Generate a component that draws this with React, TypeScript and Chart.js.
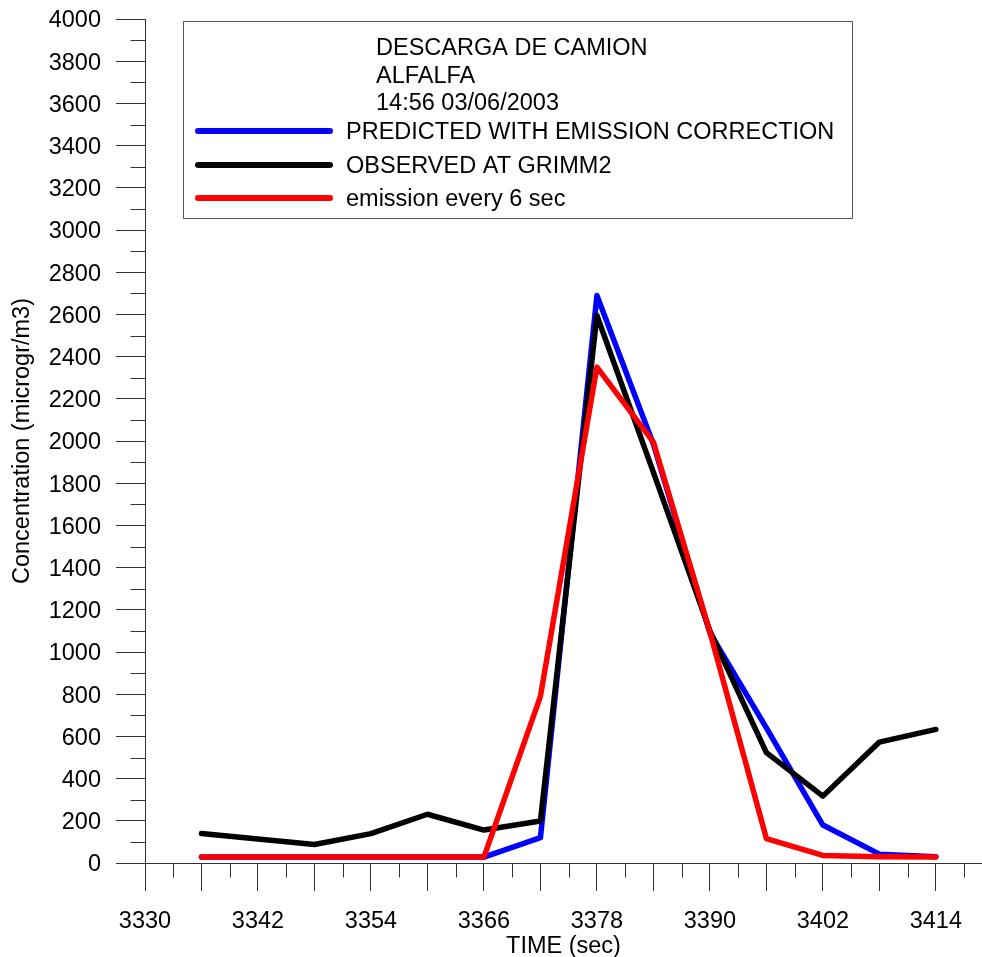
import React, { useEffect, useRef } from 'react';
import { Chart, registerables } from 'chart.js';

Chart.register(...registerables);

// ---- data ----
const times = [3336, 3342, 3348, 3354, 3360, 3366, 3372, 3378, 3384, 3390, 3396, 3402, 3408, 3414];
const predicted = [28, 28, 28, 28, 28, 28, 120, 2690, 1985, 1090, 640, 180, 42, 30];
const observed = [140, 114, 88, 139, 231, 156, 199, 2595, 1851, 1100, 523, 317, 573, 633];
const emission = [28, 28, 28, 28, 28, 28, 790, 2350, 1995, 1095, 116, 36, 30, 28];

const seriesLabels = ['PREDICTED WITH EMISSION CORRECTION', 'OBSERVED AT GRIMM2', 'emission every 6 sec'];
const seriesColors = ['#0000ff', '#000000', '#ff0000'];
const titleLines = ['DESCARGA DE CAMION', 'ALFALFA', '14:56 03/06/2003'];
const xTitle = 'TIME (sec)';
const yTitle = 'Concentration (microgr/m3)';

const xMin = 3330;
const xMax = 3418.9;
const xMajorStep = 6;
const xLabelStep = 12;
const xMinorStep = 3;
const yMin = 0;
const yMax = 4000;
const yMajorStep = 200;
const yMinorStep = 100;

const FONT = '"Liberation Sans", Arial, Helvetica, sans-serif';
const FONT_SIZE = 23.5;
const AXIS_COLOR = '#333333';

const extrasPlugin = {
  id: 'extras',
  afterDraw(chart: any) {
    const ctx = chart.ctx as CanvasRenderingContext2D;
    const xs = chart.scales.x;
    const ys = chart.scales.y;
    ctx.save();
    // minor ticks
    ctx.strokeStyle = AXIS_COLOR;
    ctx.lineWidth = 1;
    ctx.beginPath();
    for (let v = xMin + xMinorStep; v < xMax; v += xMajorStep) {
      const px = Math.round(xs.getPixelForValue(v)) + 0.5;
      ctx.moveTo(px, xs.top);
      ctx.lineTo(px, xs.top + 14.5);
    }
    for (let v = yMin + yMinorStep; v < yMax; v += yMajorStep) {
      const py = Math.round(ys.getPixelForValue(v)) + 0.5;
      ctx.moveTo(ys.right - 14.5, py);
      ctx.lineTo(ys.right, py);
    }
    ctx.stroke();

    // legend box
    const bl = 183, bt = 21, br = 852, bb = 218;
    ctx.fillStyle = '#ffffff';
    ctx.fillRect(bl, bt, br - bl, bb - bt);
    ctx.strokeStyle = '#555555';
    ctx.lineWidth = 1;
    ctx.strokeRect(bl + 0.5, bt + 0.5, br - bl, bb - bt);

    ctx.font = `${FONT_SIZE}px ${FONT}`;
    ctx.fillStyle = '#000000';
    ctx.textAlign = 'left';
    ctx.textBaseline = 'middle';
    const titleYs = [49, 77, 104];
    titleLines.forEach((t, i) => ctx.fillText(t, 376, titleYs[i]));

    const itemYs = [131, 165, 198];
    chart.data.datasets.forEach((ds: any, i: number) => {
      const y = itemYs[i];
      ctx.strokeStyle = ds.borderColor;
      ctx.lineWidth = 6;
      ctx.lineCap = 'round';
      ctx.beginPath();
      ctx.moveTo(198, y);
      ctx.lineTo(330, y);
      ctx.stroke();
      ctx.fillStyle = '#000000';
      ctx.fillText(ds.label, 346, y + 2);
    });
    ctx.restore();
  },
};

export default function App() {
  const canvasRef = useRef<HTMLCanvasElement | null>(null);

  useEffect(() => {
    if (!canvasRef.current) return;
    const mk = (i: number, values: number[], order: number) => ({
      label: seriesLabels[i],
      data: times.map((t, k) => ({ x: t, y: values[k] })),
      borderColor: seriesColors[i],
      backgroundColor: seriesColors[i],
      borderWidth: 5.5,
      pointRadius: 0,
      tension: 0,
      borderJoinStyle: 'round' as const,
      borderCapStyle: 'round' as const,
      fill: false,
      order,
    });
    const chart = new Chart(canvasRef.current, {
      type: 'line',
      data: {
        datasets: [mk(0, predicted, 2), mk(1, observed, 1), mk(2, emission, 0)],
      },
      options: {
        animation: false,
        responsive: false,
        devicePixelRatio: 1,
        layout: { padding: { top: 19, right: 0, left: 0, bottom: 0 } },
        plugins: {
          legend: { display: false },
          tooltip: { enabled: false },
        },
        scales: {
          x: {
            type: 'linear',
            min: xMin,
            max: xMax,
            afterFit: (s: any) => {
              s.height = 94;
              s.paddingLeft = 0; s.paddingRight = 0; s.paddingTop = 0; s.paddingBottom = 0;
            },
            border: { display: true, color: AXIS_COLOR, width: 1 },
            grid: { display: true, drawOnChartArea: false, drawTicks: true, tickLength: 28, color: AXIS_COLOR, lineWidth: 1 },
            ticks: {
              stepSize: xMajorStep,
              includeBounds: false,
              autoSkip: false,
              maxRotation: 0,
              padding: 16,
              color: '#000000',
              font: { family: FONT, size: FONT_SIZE },
              callback: (v: any) => ((Number(v) - xMin) % xLabelStep === 0 ? String(v) : ''),
            },
            title: {
              display: true,
              text: xTitle,
              color: '#000000',
              font: { family: FONT, size: FONT_SIZE, lineHeight: 0.85 },
              padding: { top: 0, bottom: 0 },
            },
          },
          y: {
            type: 'linear',
            min: yMin,
            max: yMax,
            afterFit: (s: any) => {
              s.width = 145;
              s.paddingLeft = 0; s.paddingRight = 0; s.paddingTop = 0; s.paddingBottom = 0;
            },
            border: { display: true, color: AXIS_COLOR, width: 1 },
            grid: { display: true, drawOnChartArea: false, drawTicks: true, tickLength: 29, color: AXIS_COLOR, lineWidth: 1 },
            ticks: {
              stepSize: yMajorStep,
              autoSkip: false,
              padding: 15,
              labelOffset: 2,
              color: '#000000',
              font: { family: FONT, size: FONT_SIZE },
              callback: (v: any) => String(v),
            },
            title: {
              display: true,
              text: yTitle,
              color: '#000000',
              font: { family: FONT, size: FONT_SIZE, lineHeight: 1.2 },
              padding: { top: 8, bottom: 0 },
            },
          },
        },
      } as any,
      plugins: [extrasPlugin],
    });
    return () => chart.destroy();
  }, []);

  return (
    <div style={{ position: 'absolute', left: 0, top: 0, width: 982, height: 957, background: '#ffffff' }}>
      <canvas ref={canvasRef} width={982} height={957} style={{ display: 'block' }} />
    </div>
  );
}
